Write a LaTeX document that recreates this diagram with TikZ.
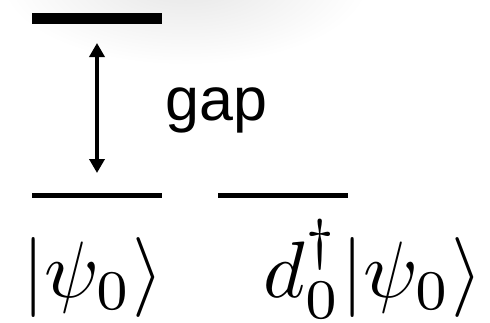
\documentclass[tikz,border=0pt]{standalone}
\usepackage{amsmath}
\usepackage{fontspec}
\usepackage{tikz}
\usetikzlibrary{positioning,arrows.meta}
\newfontfamily\gapfont{Liberation Sans}

\begin{document}
\begin{tikzpicture}[x=1pt, y=-1pt,
        level/.style={line width=5pt},
        toplevel/.style={line width=10.5pt},
        state/.style={inner sep=0pt, scale=8, transform shape},
        gaparrow/.style={line width=3.5pt, {Triangle[width=15pt,length=14pt]}-{Triangle[width=15pt,length=14pt]}}
    ]
        \useasboundingbox (0,0) rectangle (490,322);
        % faint shadow
        \shade[inner color=black!10, outer color=white] (185,-20) ellipse [x radius=185, y radius=85];

        % Levels
        \draw[toplevel] (32,18.5) coordinate (exA) -- (162,18.5) coordinate (exB);
        \draw[level] (32,195.5) coordinate (gsA) -- (162,195.5) coordinate (gsB);
        \draw[level] (218,195.5) coordinate (addA) -- (348,195.5) coordinate (addB);

        % Gap
        \coordinate (up) at (97,43);
        \coordinate (down) at (97,173);
        \draw[gaparrow] (up) -- (down);
        \node[inner sep=0pt, anchor=base west, font=\gapfont\fontsize{61}{70}\selectfont] (gap) at (165,120) {gap};

        % States
        \node[state, anchor=base] (gs) at (93,297) {$|\psi_0\rangle$};
        \node[state, anchor=base] (add) at (373,297) {$d_0^\dagger|\psi_0\rangle$};
    \end{tikzpicture}
\end{document}
